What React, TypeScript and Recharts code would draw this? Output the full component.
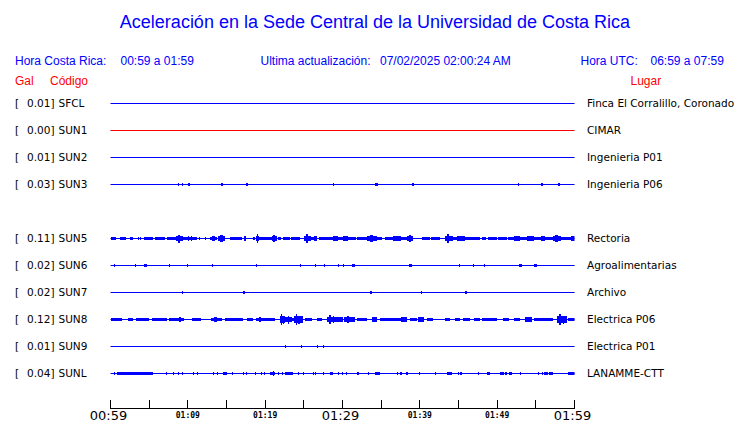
import { ComposedChart, Area, XAxis, YAxis, ReferenceLine } from "recharts";

const title = "Aceleración en la Sede Central de la Universidad de Costa Rica";
const localWindow = "00:59 a 01:59";
const utcWindow = "06:59 a 07:59";
const lastUpdate = "07/02/2025 02:00:24 AM";

// stations, top to bottom (row 4 is empty)
const codes = ["SFCL", "SUN1", "SUN2", "SUN3", "SUN5", "SUN6", "SUN7", "SUN8", "SUN9", "SUNL"];
const rowIndex = [0, 1, 2, 3, 5, 6, 7, 8, 9, 10];
const peakGal = ["0.01", "0.00", "0.01", "0.03", "0.11", "0.02", "0.02", "0.12", "0.01", "0.04"];
const places = [
  "Finca El Corralillo, Coronado",
  "CIMAR",
  "Ingenieria P01",
  "Ingenieria P06",
  "Rectoria",
  "Agroalimentarias",
  "Archivo",
  "Electrica P06",
  "Electrica P01",
  "LANAMME-CTT",
];

// envelope bursts: [start minute, end minute, amplitude]; overlaps keep the larger one
type Burst = [number, number, number];
const sfclBursts: Burst[] = [];
const sun1Bursts: Burst[] = [];
const sun2Bursts: Burst[] = [];
const sun3Bursts: Burst[] = [
  [8.75, 8.875, 2], [9.25, 9.375, 2], [10, 10.25, 2], [14.25, 14.5, 2], [17.5, 17.75, 2],
  [28.75, 28.875, 1.5], [34.25, 34.625, 2], [39, 39.25, 2], [52.75, 52.875, 2], [55.625, 55.875, 2],
  [57.875, 58.125, 2],
];
const sun5Bursts: Burst[] = [
  [0, 0.75, 2], [1.25, 2, 2], [2.5, 2.875, 2], [3.5, 3.625, 1.5], [3.875, 4, 1.5], [4.375, 5.5, 2],
  [5.75, 7, 2], [7.25, 8.5, 2], [8.5, 9.375, 3], [8.75, 9, 5], [9.375, 9.875, 2], [9.875, 10.625, 2],
  [10, 10.125, 3], [10.375, 10.5, 3], [10.625, 11.125, 2], [11.5, 11.625, 1.5], [12.25, 12.375, 1.5],
  [12.875, 13.75, 2], [13.125, 13.5, 3], [13.875, 14.75, 3], [14.125, 14.5, 4], [15.5, 17, 2],
  [17.25, 17.5, 3], [18.375, 18.625, 2], [18.875, 19.25, 3], [19, 19.125, 6], [19.25, 20.875, 2],
  [20.875, 21.5, 3], [21, 21.25, 4], [21.625, 22, 2], [22.25, 23.25, 2], [23.375, 24.5, 2],
  [25, 25.875, 3], [25.25, 25.5, 6], [25.875, 26.25, 2], [26.25, 26.75, 3], [27, 28.75, 2],
  [28.75, 29.375, 3], [29.375, 30, 2], [30, 30.75, 3], [30.75, 31.75, 2], [31.875, 33.125, 2],
  [33.125, 34.5, 3], [33.5, 34, 4], [34.5, 35.125, 2], [35.5, 36.5, 2], [36.5, 37.5, 3],
  [37.5, 38.375, 2], [38.375, 39.125, 3], [38.625, 38.875, 4], [40.25, 41.25, 2], [41.5, 42.625, 2],
  [43.25, 44.25, 3], [43.5, 43.75, 6], [44.25, 44.75, 2], [44.75, 45.875, 3], [45.875, 47.75, 2],
  [48, 48.5, 2], [48.75, 50, 2], [50.125, 51.25, 2], [51.375, 52.125, 2], [52.125, 53, 3],
  [53, 53.875, 2], [53.875, 54.75, 3], [54.75, 55.625, 2], [55.625, 56.125, 3], [56.125, 57.25, 2],
  [57.25, 58.25, 3], [57.5, 57.875, 4], [58.25, 59.5, 2], [59.5, 60, 3],
];
const sun6Bursts: Burst[] = [
  [0.5, 0.625, 2], [3.125, 3.25, 2], [4.375, 4.75, 2], [7.5, 7.75, 2], [9.875, 10, 1.5],
  [13.125, 13.25, 1.5], [18.875, 19, 1.5], [24.5, 24.625, 1.5], [26.5, 26.625, 1.5], [27.625, 27.75, 2],
  [29.375, 29.5, 1.5], [30.125, 30.25, 1.5], [31.25, 31.625, 2], [38.625, 39, 2], [45.125, 45.25, 1.5],
  [46.875, 47, 1.5], [48.25, 48.375, 1.5], [52.875, 53.25, 2], [54.75, 55.125, 2],
];
const sun7Bursts: Burst[] = [
  [9.25, 9.375, 1.5], [17.125, 17.375, 2], [33.5, 33.75, 2], [40.125, 40.25, 1.5], [45.875, 46.125, 2],
];
const sun8Bursts: Burst[] = [
  [0, 1.5, 2], [2.25, 2.875, 2], [3.25, 5, 2], [5.375, 7.25, 2], [7.5, 9.5, 2], [8.875, 9.125, 3],
  [10.5, 11.75, 2], [13, 14.375, 2], [13.375, 13.75, 3], [14.75, 17.125, 2], [17.625, 18.375, 2],
  [18.875, 20.25, 2], [19.25, 19.5, 3], [20.25, 21.25, 2], [21.875, 22.5, 4], [22, 22.125, 7],
  [22.25, 22.375, 5], [22.5, 22.75, 3], [22.75, 23.5, 3], [23, 23.125, 5], [23.5, 23.75, 2],
  [23.75, 24.875, 4], [24, 24.125, 7], [24.25, 24.5, 5], [25.125, 26, 2], [26.75, 27.375, 2],
  [28, 29.375, 3], [28.25, 28.5, 6], [28.75, 28.875, 4], [29.375, 30.125, 3], [30.25, 31.625, 3],
  [30.625, 30.875, 4], [31.875, 33.125, 2], [33.75, 34.5, 3], [34.875, 37.5, 2], [37.625, 38.375, 3],
  [38.75, 39.625, 2], [39.75, 40.5, 3], [40.875, 41.75, 2], [43.25, 43.875, 2], [44.5, 45.25, 2],
  [45.625, 46.5, 2], [47, 47.75, 2], [48, 50, 2], [50.75, 51.5, 2], [52.125, 53, 2],
  [53.625, 54.5, 3], [54.75, 57.25, 2], [57.75, 59, 4], [58, 58.25, 7], [58.5, 58.625, 5],
  [59.125, 60, 2],
];
const sun9Bursts: Burst[] = [[22.625, 22.75, 1.5], [24.625, 24.75, 1.5], [26.75, 26.875, 1.5], [27.5, 27.625, 1.5]];
const sunlBursts: Burst[] = [
  [0, 0.125, 2], [0.5, 0.625, 1.5], [0.875, 1.125, 2], [1.125, 5.5, 2], [7.125, 7.25, 1.5],
  [8.125, 8.25, 1.5], [8.75, 8.875, 2], [9.25, 9.375, 1.5], [10.625, 10.75, 1.5], [11.125, 11.25, 1.5],
  [13.25, 13.375, 1.5], [13.75, 13.875, 1.5], [14.5, 15.125, 2], [15.75, 15.875, 2], [17.125, 17.25, 1.5],
  [17.5, 17.625, 1.5], [18.625, 18.75, 2], [19.5, 19.625, 1.5], [19.875, 20, 2], [20.625, 21.25, 2],
  [21, 21.125, 3], [21.625, 21.75, 1.5], [22.125, 22.25, 1.5], [22.625, 23.625, 2], [24.25, 24.375, 2],
  [24.875, 25, 2], [26.125, 26.25, 1.5], [26.5, 26.625, 1.5], [27.5, 27.625, 1.5], [28.375, 28.75, 2],
  [29.375, 29.5, 2], [29.875, 30, 2], [30.5, 30.625, 2], [31.875, 32.125, 2], [33.25, 33.375, 1.5],
  [34.25, 34.875, 2], [37, 37.125, 1.5], [37.375, 37.5, 1.5], [37.625, 37.75, 1.5], [38.25, 38.5, 2],
  [39.875, 40, 1.5], [42, 42.125, 1.5], [43.5, 44.125, 2], [44.875, 45, 2], [45.25, 45.5, 2],
  [47.5, 47.625, 1.5], [48.625, 49.125, 2], [50.375, 50.875, 2], [51, 51.25, 1.5], [51.5, 51.875, 1.5],
  [53, 53.125, 1.5], [55.25, 55.375, 1.5], [55.75, 55.875, 1.5], [56, 56.625, 2], [56.75, 57.25, 2],
  [59.125, 60, 2],
];
const bursts = [sfclBursts, sun1Bursts, sun2Bursts, sun3Bursts, sun5Bursts, sun6Bursts, sun7Bursts, sun8Bursts, sun9Bursts, sunlBursts];

const timeTicks = [0, 5, 10, 15, 20, 25, 30, 35, 40, 45, 50, 55, 60];
const labelMinutes = [0, 10, 20, 30, 40, 50, 60];
const labelTexts = ["00:59", "01:09", "01:19", "01:29", "01:39", "01:49", "01:59"];

const BLUE = "#0000ff";
const RED = "#ff0000";
const ROW_PX = 27;
const AMP = 0.8 / ROW_PX;
const STEP = 0.125;

const ampAt = (list: Burst[], t: number) =>
  list.reduce((m, [a, b, v]) => (t >= a - 1e-6 && t < b - 1e-6 ? Math.max(m, v) : m), 0);

const chartData = Array.from({ length: 60 / STEP + 1 }, (_, i) => {
  const t = i * STEP;
  const d: Record<string, number> = { t };
  codes.forEach((c, k) => {
    d[c] = ampAt(bursts[k], t);
  });
  return d;
});

const yDomain: [number, number] = [-1, -1 + 332 / ROW_PX];

function CodeTick({ y, payload }: any) {
  const k = rowIndex.indexOf(payload.value);
  if (k < 0) return null;
  const common = { y, dy: "0.35em", fontFamily: "DejaVu Sans", fontSize: 10.5, fill: "#000" };
  return (
    <g>
      <text x={15} {...common}>[</text>
      <text x={54.5} textAnchor="end" {...common}>{peakGal[k]}]</text>
      <text x={58.5} {...common}>{codes[k]}</text>
    </g>
  );
}

function PlaceTick({ y, payload }: any) {
  const k = rowIndex.indexOf(payload.value);
  if (k < 0) return null;
  return (
    <text x={587} y={y} dy="0.35em" fontFamily="DejaVu Sans" fontSize={10.5} fill="#000">
      {places[k]}
    </text>
  );
}

function TimeTick({ x, y, payload }: any) {
  const k = labelMinutes.indexOf(payload.value);
  const big = payload.value % 30 === 0;
  return (
    <g>
      <line x1={x} x2={x} y1={y - 9} y2={y} stroke="#000" shapeRendering="crispEdges" />
      {k >= 0 &&
        (big ? (
          <text x={x - 2} y={y + 11.5} textAnchor="middle" fontFamily="DejaVu Sans" fontSize={13} fill="#000">
            {labelTexts[k]}
          </text>
        ) : (
          <text x={x} y={y + 9.5} textAnchor="middle" fontFamily="DejaVu Sans Mono" fontWeight="bold" fontSize={8} fill="#000">
            {labelTexts[k]}
          </text>
        ))}
    </g>
  );
}

export default function App() {
  const head = { fontFamily: "Liberation Sans, Arial, sans-serif", fontSize: 12 };
  return (
    <div style={{ position: "absolute", left: 0, top: 0, width: 740, height: 423, background: "#fff" }}>
      <ComposedChart width={740} height={423} data={chartData} margin={{ top: 76.5, right: 0, bottom: 0, left: 0 }}>
        <XAxis
          dataKey="t"
          type="number"
          domain={[0, 60]}
          ticks={timeTicks}
          interval={0}
          height={14.5}
          tickSize={0}
          tickMargin={0}
          tickLine={false}
          axisLine={{ stroke: "#000" }}
          tick={<TimeTick />}
          allowDataOverflow
        />
        <YAxis
          yAxisId="left"
          type="number"
          domain={yDomain}
          reversed
          ticks={rowIndex}
          interval={0}
          width={110.5}
          axisLine={false}
          tickLine={false}
          tick={<CodeTick />}
          allowDataOverflow
        />
        <YAxis
          yAxisId="right"
          orientation="right"
          type="number"
          domain={yDomain}
          reversed
          ticks={rowIndex}
          interval={0}
          width={165.5}
          axisLine={false}
          tickLine={false}
          tick={<PlaceTick />}
          allowDataOverflow
        />
        {codes.map((c, k) => (
          <ReferenceLine
            key={`base-${c}`}
            yAxisId="left"
            y={rowIndex[k]}
            stroke={c === "SUN1" ? RED : BLUE}
            strokeWidth={1}
          />
        ))}
        {codes.map((c, k) => (
          <Area
            key={`env-${c}`}
            yAxisId="left"
            type="stepAfter"
            dataKey={(d: Record<string, number>) => [rowIndex[k] - d[c] * AMP, rowIndex[k] + d[c] * AMP]}
            stroke="none"
            fill={c === "SUN1" ? RED : BLUE}
            fillOpacity={1}
            shapeRendering="crispEdges"
            dot={false}
            activeDot={false}
            isAnimationActive={false}
          />
        ))}
      </ComposedChart>
      <svg width={740} height={423} style={{ position: "absolute", left: 0, top: 0, pointerEvents: "none" }}>
        <text x={375} y={28} textAnchor="middle" fill={BLUE} fontFamily="Liberation Sans, Arial, sans-serif" fontSize={18}>
          {title}
        </text>
        <text x={15} y={65} fill={BLUE} {...head}>Hora Costa Rica:</text>
        <text x={120.5} y={65} fill={BLUE} {...head}>{localWindow}</text>
        <text x={260.5} y={65} fill={BLUE} {...head}>Ultima actualización:</text>
        <text x={380} y={65} fill={BLUE} {...head}>{lastUpdate}</text>
        <text x={580.5} y={65} fill={BLUE} {...head}>Hora UTC:</text>
        <text x={650.5} y={65} fill={BLUE} {...head}>{utcWindow}</text>
        <text x={15} y={85} fill={RED} {...head}>Gal</text>
        <text x={50} y={85} fill={RED} {...head}>Código</text>
        <text x={630.5} y={85} fill={RED} {...head}>Lugar</text>
      </svg>
    </div>
  );
}
